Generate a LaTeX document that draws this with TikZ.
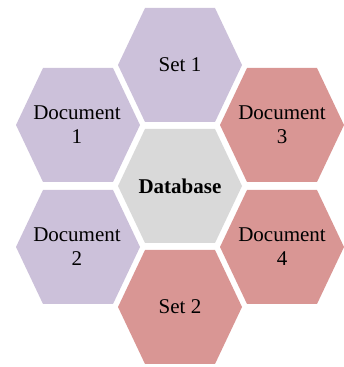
\documentclass[tikz,border=0pt]{standalone}
\usepackage{fontspec}
\setmainfont{Liberation Serif}
\definecolor{lavender}{HTML}{CCC1DA}
\definecolor{rosy}{HTML}{D99694}
\definecolor{softgrey}{HTML}{D9D9D9}
\begin{document}
\begin{tikzpicture}[x=1pt,y=1pt,
  hexcell/.style={insert path={++(-62,0) -- ++(27,57) -- ++(70,0) -- ++(27,-57) -- ++(-27,-57) -- ++(-70,0) -- cycle}},
  celltext/.style={align=center,inner sep=0pt,font=\fontsize{21}{24}\selectfont}]
  \useasboundingbox (0,0) rectangle (343,367);
  % cells
  \fill[softgrey] (180,181) [hexcell];
  \fill[lavender] (180,302) [hexcell];
  \fill[rosy] (180,60) [hexcell];
  \fill[lavender] (78,242) [hexcell];
  \fill[lavender] (78,120) [hexcell];
  \fill[rosy] (282,242) [hexcell];
  \fill[rosy] (282,120) [hexcell];
  % texts
  \node[celltext,font=\fontsize{21}{24}\selectfont\bfseries] (db) at (180,181) {Database};
  \node[celltext] (set1) at (180,302) {Set 1};
  \node[celltext] (set2) at (180,60) {Set 2};
  \node[celltext] (doc1) at (77,242) {Document\\1};
  \node[celltext] (doc2) at (77,120) {Document\\2};
  \node[celltext] (doc3) at (282,242) {Document\\3};
  \node[celltext] (doc4) at (282,120) {Document\\4};
\end{tikzpicture}
\end{document}
